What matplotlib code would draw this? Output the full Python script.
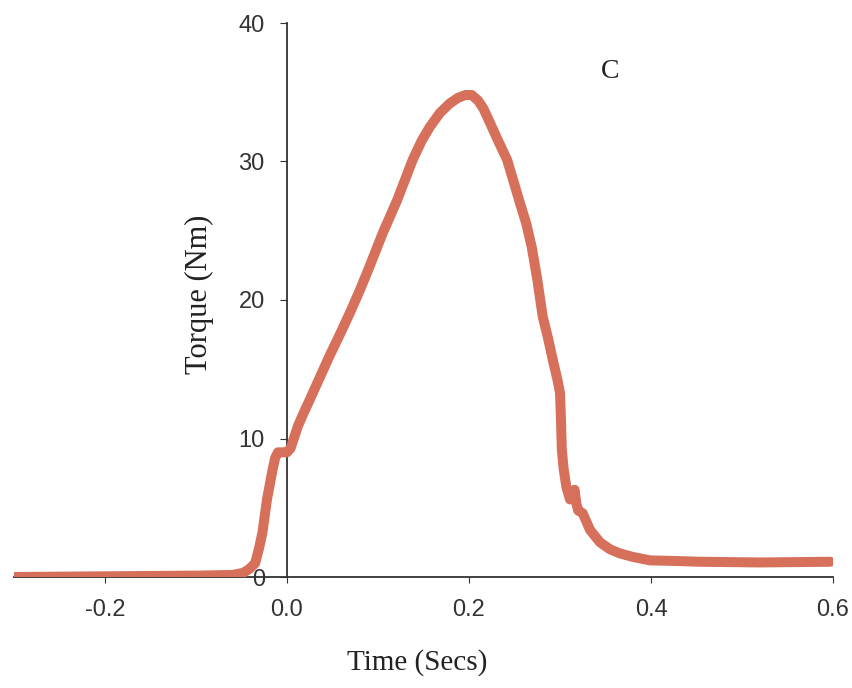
import matplotlib
matplotlib.use("Agg")
import matplotlib.pyplot as plt

time_s = [-0.300, -0.200, -0.100, -0.060, -0.048, -0.041, -0.035, -0.031, -0.027, -0.022,
          -0.016, -0.013, -0.010, -0.005, 0.000, 0.004, 0.007, 0.012, 0.018, 0.025,
          0.036, 0.047, 0.058, 0.070, 0.080, 0.090, 0.105, 0.121, 0.138, 0.148,
          0.157, 0.168, 0.179, 0.188, 0.196, 0.203, 0.210, 0.216, 0.223, 0.232,
          0.242, 0.256, 0.263, 0.269, 0.275, 0.281, 0.287, 0.292, 0.297, 0.300,
          0.301, 0.302, 0.304, 0.307, 0.311, 0.314, 0.316, 0.318, 0.320, 0.325,
          0.333, 0.344, 0.355, 0.366, 0.380, 0.399, 0.430, 0.454, 0.520, 0.597]
torque_nm = [0.0, 0.05, 0.1, 0.15, 0.3, 0.6, 1.0, 2.0, 3.2, 5.6,
             7.7, 8.6, 9.0, 9.0, 9.0, 9.3, 9.9, 10.9, 11.8, 12.8,
             14.4, 16.0, 17.5, 19.2, 20.7, 22.3, 24.8, 27.2, 30.1, 31.5,
             32.5, 33.5, 34.2, 34.6, 34.8, 34.8, 34.4, 33.8, 32.8, 31.5,
             30.1, 27.0, 25.5, 23.8, 21.5, 18.8, 17.2, 15.7, 14.3, 13.3,
             11.5, 9.2, 7.8, 6.5, 5.6, 5.8, 6.3, 5.3, 4.8, 4.6,
             3.4, 2.5, 2.0, 1.7, 1.45, 1.2, 1.15, 1.1, 1.05, 1.1]
x_ticks = [-0.2, 0.0, 0.2, 0.4, 0.6]
x_ticklabels = ["-0.2", "0.0", "0.2", "0.4", "0.6"]
y_ticks = [0, 10, 20, 30, 40]

fig = plt.figure(figsize=(8.53, 6.88), dpi=100)
ax = fig.add_axes([14/853, 111/688, 819/853, 554/688])
ax.plot(time_s, torque_nm, color="#d6705b", lw=7.2, solid_capstyle="round",
        solid_joinstyle="round", zorder=3)
ax.set_xlim(-0.3, 0.6)
ax.set_ylim(0, 40)
ax.spines["top"].set_visible(False)
ax.spines["right"].set_visible(False)
ax.spines["left"].set_position(("data", 0))
ax.spines["bottom"].set_position(("data", 0))
for s in ("left", "bottom"):
    ax.spines[s].set_color("#333333")
    ax.spines[s].set_linewidth(1.3)
ax.set_xticks(x_ticks)
ax.set_xticklabels(x_ticklabels)
ax.set_yticks(y_ticks)
ax.tick_params(axis="x", direction="out", length=4, pad=12, labelsize=17,
               colors="#333333", labelcolor="#333333")
ax.tick_params(axis="y", direction="out", length=5, pad=11, labelsize=17,
               colors="#333333", labelcolor="#333333")
for lab in ax.get_xticklabels() + ax.get_yticklabels():
    lab.set_family("Liberation Sans")

fig.text(417/853, 1 - 663/688, "Time (Secs)", ha="center", va="center",
         family="Liberation Serif", fontsize=21, color="#222222")
fig.text(199/853, 1 - 294/688, "Torque (Nm)", ha="center", va="center",
         rotation=90, family="Liberation Serif", fontsize=22, color="#222222")
fig.text(610/853, 1 - 72/688, "C", ha="center", va="center",
         family="Liberation Serif", fontsize=20, color="#222222")

fig.savefig("out.png", dpi=100)
